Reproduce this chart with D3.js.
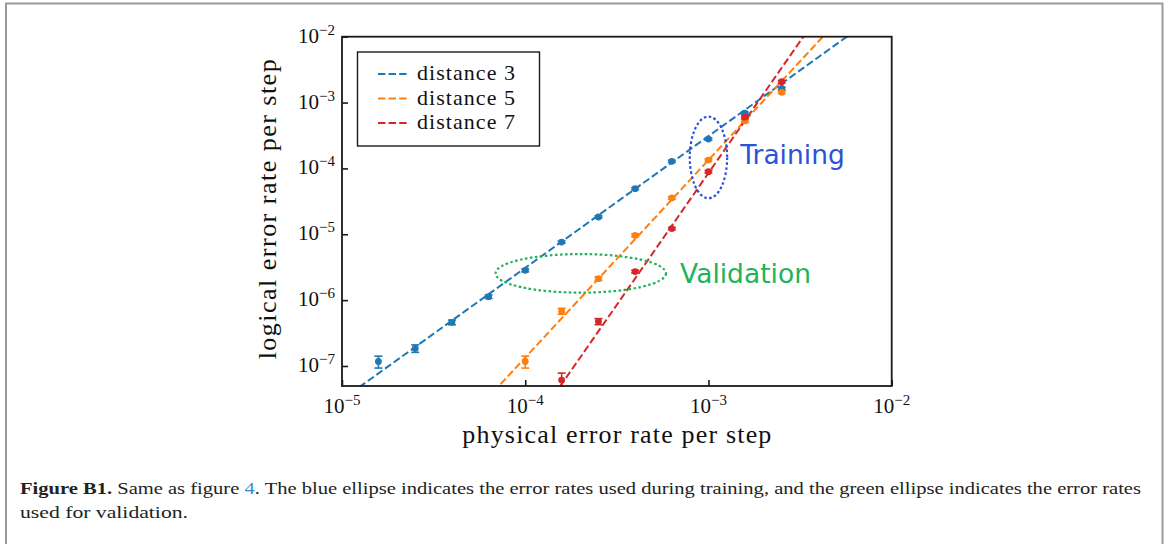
<!DOCTYPE html>
<html>
<head>
<meta charset="utf-8">
<script src="https://cdn.jsdelivr.net/npm/d3@7"></script>
<style>
  html, body { margin: 0; padding: 0; background: #fff; }
  svg { display: block; }
</style>
</head>
<body>
<svg id="chart" width="1165" height="544"></svg>
<script>
// ---------------- data ----------------
const seriesNames = ["distance 3", "distance 5", "distance 7"];
const seriesColors = ["#1f77b4", "#ff7f0e", "#d62728"];

const physD3 = [1.58e-5, 2.51e-5, 3.98e-5, 6.31e-5, 1.0e-4, 1.58e-4, 2.51e-4, 3.98e-4, 6.31e-4, 1.0e-3, 1.58e-3, 2.51e-3];
const logD3  = [1.17e-7, 1.85e-7, 4.6e-7, 1.13e-6, 2.83e-6, 7.6e-6, 1.83e-5, 4.93e-5, 1.28e-4, 2.79e-4, 6.89e-4, 1.64e-3];
const errD3  = [2.4e-8, 2.4e-8, 3.7e-8, 6.8e-8, 1.4e-7, 3.0e-7, 7e-7, 2e-6, 5e-6, 1.1e-5, 2.8e-5, 7e-5];

const physD5 = [1.0e-4, 1.58e-4, 2.51e-4, 3.98e-4, 6.31e-4, 1.0e-3, 1.58e-3, 2.51e-3];
const logD5  = [1.17e-7, 6.8e-7, 2.12e-6, 9.6e-6, 3.56e-5, 1.34e-4, 5.27e-4, 1.43e-3];
const errD5  = [2.4e-8, 7e-8, 1.3e-7, 4.5e-7, 1.5e-6, 5.5e-6, 2.2e-5, 6e-5];

const physD7 = [1.58e-4, 2.51e-4, 3.98e-4, 6.31e-4, 1.0e-3, 1.58e-3, 2.51e-3];
const logD7  = [6.1e-8, 4.74e-7, 2.71e-6, 1.22e-5, 8.9e-5, 6.0e-4, 2.07e-3];
const errD7  = [1.7e-8, 5e-8, 1.3e-7, 5e-7, 4e-6, 2.5e-5, 9e-5];

// power-law fits  p_L = A * p^k
const fitA = [309, 1.34e5, 8.5e7];
const fitK = [2, 3, 4];

const xTicks = [1e-5, 1e-4, 1e-3, 1e-2];
const xTickExp = ["−5", "−4", "−3", "−2"];
const yTicks = [1e-7, 1e-6, 1e-5, 1e-4, 1e-3, 1e-2];
const yTickExp = ["−7", "−6", "−5", "−4", "−3", "−2"];

const xLabel = "physical error rate per step";
const yLabel = "logical error rate per step";

// annotations (data coordinates, log10 half-extents)
const ellipseNames = ["Training", "Validation"];
const ellipseColors = ["#2b52d9", "#22b35a"];
const ellipseCx = [1.0e-3, 2.01e-4];
const ellipseCy = [1.47e-4, 2.55e-6];
const ellipseRxDec = [0.102, 0.465];
const ellipseRyDec = [0.62, 0.293];
const labelX = [1.49e-3, 7.0e-4];
const labelY = [1.165e-4, 1.82e-6];

const captionBold = "Figure B1.";
const captionA = " Same as figure ";
const captionLink = "4";
const captionB = ". The blue ellipse indicates the error rates used during training, and the green ellipse indicates the error rates";
const captionLine2 = "used for validation.";

// ---------------- layout ----------------
const svg = d3.select("#chart");
const L = 342, R = 891.7, T = 36.7, B = 386;
const serif = "'Liberation Serif','Times New Roman',serif";

const x = d3.scaleLog().domain([1e-5, 1e-2]).range([L, R]);
const y = d3.scaleLog().domain([Math.pow(10, -7.304), 1e-2]).range([B, T]);

// outer frame (left, top, right)
svg.append("path")
  .attr("d", "M6,560 L6,3.5 L1162.5,3.5 L1162.5,560")
  .attr("fill", "none").attr("stroke", "#9a9a9a").attr("stroke-width", 2);

svg.append("defs").append("clipPath").attr("id", "plotclip")
  .append("rect").attr("x", L).attr("y", T).attr("width", R - L).attr("height", B - T);

const plot = svg.append("g").attr("clip-path", "url(#plotclip)");

const series = [
  { px: physD3, py: logD3, pe: errD3 },
  { px: physD5, py: logD5, pe: errD5 },
  { px: physD7, py: logD7, pe: errD7 }
];

// fit lines
series.forEach((s, i) => {
  const xs = x.domain();
  const pts = xs.map(v => [v, fitA[i] * Math.pow(v, fitK[i])]);
  plot.append("path")
    .attr("d", d3.line().x(d => x(d[0])).y(d => y(d[1]))(pts))
    .attr("fill", "none").attr("stroke", seriesColors[i])
    .attr("stroke-width", 2).attr("stroke-dasharray", "7.4,3.2");
});

// error bars + markers
series.forEach((s, i) => {
  const g = plot.append("g");
  s.px.forEach((px, j) => {
    const cx = x(px);
    const lo = y(Math.max(s.py[j] - s.pe[j], 1e-12));
    const hi = y(s.py[j] + s.pe[j]);
    g.append("line").attr("x1", cx).attr("x2", cx).attr("y1", lo).attr("y2", hi)
      .attr("stroke", seriesColors[i]).attr("stroke-width", 1.6);
    [lo, hi].forEach(yy => g.append("line")
      .attr("x1", cx - 4).attr("x2", cx + 4).attr("y1", yy).attr("y2", yy)
      .attr("stroke", seriesColors[i]).attr("stroke-width", 1.6));
    g.append("circle").attr("cx", cx).attr("cy", y(s.py[j])).attr("r", 3.4)
      .attr("fill", seriesColors[i]);
  });
});

// ellipses
ellipseNames.forEach((n, i) => {
  const cx = x(ellipseCx[i]), cy = y(ellipseCy[i]);
  const rx = x(ellipseCx[i] * Math.pow(10, ellipseRxDec[i])) - cx;
  const ry = cy - y(ellipseCy[i] * Math.pow(10, ellipseRyDec[i]));
  svg.append("ellipse").attr("cx", cx).attr("cy", cy).attr("rx", rx).attr("ry", ry)
    .attr("fill", "none").attr("stroke", ellipseColors[i]).attr("stroke-width", 2.2)
    .attr("stroke-dasharray", "2.6,2.4");
  svg.append("text").attr("x", x(labelX[i])).attr("y", y(labelY[i]))
    .attr("font-family", "'DejaVu Sans',sans-serif").attr("font-size", 26.5)
    .attr("fill", ellipseColors[i]).text(n);
});

// axes frame
svg.append("rect").attr("x", L).attr("y", T).attr("width", R - L).attr("height", B - T)
  .attr("fill", "none").attr("stroke", "#1a1a1a").attr("stroke-width", 1.8);

// x axis ticks (inward)
const xAxis = d3.axisBottom(x).tickValues(xTicks).tickSizeInner(-6).tickSizeOuter(0).tickFormat("");
const gx = svg.append("g").attr("transform", `translate(0,${B})`).call(xAxis);
gx.select(".domain").remove();
gx.selectAll(".tick line").attr("stroke", "#1a1a1a").attr("stroke-width", 1.6);

const yAxis = d3.axisLeft(y).tickValues(yTicks).tickSizeInner(-6).tickSizeOuter(0).tickFormat("");
const gy = svg.append("g").attr("transform", `translate(${L},0)`).call(yAxis);
gy.select(".domain").remove();
gy.selectAll(".tick line").attr("stroke", "#1a1a1a").attr("stroke-width", 1.6);

// tick labels
xTicks.forEach((v, i) => {
  const t = svg.append("text").attr("x", x(v)).attr("y", B + 27)
    .attr("text-anchor", "middle").attr("font-family", serif).attr("font-size", 21).attr("fill", "#111");
  t.append("tspan").text("10");
  t.append("tspan").attr("dy", -8).attr("font-size", 15).text(xTickExp[i]);
});
yTicks.forEach((v, i) => {
  const t = svg.append("text").attr("x", L - 7).attr("y", y(v) + 6)
    .attr("text-anchor", "end").attr("font-family", serif).attr("font-size", 21).attr("fill", "#111");
  t.append("tspan").text("10");
  t.append("tspan").attr("dy", -8).attr("font-size", 15).text(yTickExp[i]);
});

// axis labels
svg.append("text").attr("x", (L + R) / 2).attr("y", 443)
  .attr("text-anchor", "middle").attr("font-family", serif).attr("font-size", 26).attr("fill", "#111")
  .attr("textLength", 309).attr("lengthAdjust", "spacing")
  .text(xLabel);
svg.append("text").attr("transform", `translate(276,${(T + B) / 2 - 2}) rotate(-90)`)
  .attr("text-anchor", "middle").attr("font-family", serif).attr("font-size", 26).attr("fill", "#111")
  .attr("textLength", 300).attr("lengthAdjust", "spacing")
  .text(yLabel);

// legend
const lg = svg.append("g");
lg.append("rect").attr("x", 357.5).attr("y", 52).attr("width", 182).attr("height", 94)
  .attr("fill", "#fff").attr("stroke", "#1a1a1a").attr("stroke-width", 1.4);
seriesNames.forEach((n, i) => {
  const yy = 74 + i * 24.5;
  lg.append("line").attr("x1", 378).attr("x2", 407).attr("y1", yy).attr("y2", yy)
    .attr("stroke", seriesColors[i]).attr("stroke-width", 2).attr("stroke-dasharray", "7.4,3.2");
  lg.append("text").attr("x", 417).attr("y", yy + 6).attr("font-family", serif)
    .attr("font-size", 22).attr("fill", "#111")
    .attr("textLength", 98).attr("lengthAdjust", "spacing").text(n);
});

// caption
const cap = svg.append("text").attr("x", 20).attr("y", 494)
  .attr("font-family", serif).attr("font-size", 17).attr("fill", "#222")
  .attr("textLength", 1121).attr("lengthAdjust", "spacingAndGlyphs");
cap.append("tspan").attr("font-weight", "bold").text(captionBold);
cap.append("tspan").text(captionA);
cap.append("tspan").attr("fill", "#2f8fd0").text(captionLink);
cap.append("tspan").text(captionB);
svg.append("text").attr("x", 20).attr("y", 518)
  .attr("font-family", serif).attr("font-size", 17).attr("fill", "#222")
  .attr("textLength", 168).attr("lengthAdjust", "spacingAndGlyphs")
  .text(captionLine2);
</script>
</body>
</html>
